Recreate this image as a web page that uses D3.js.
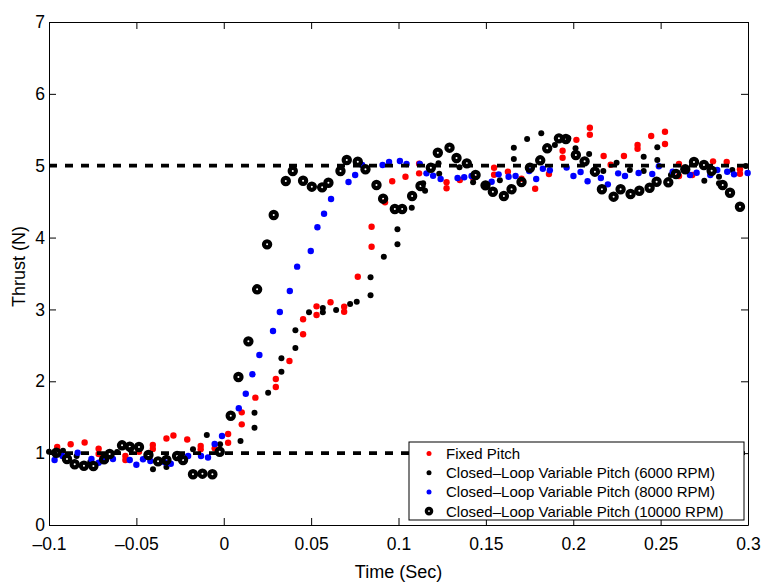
<!DOCTYPE html>
<html lang="en">
<head>
    <meta charset="UTF-8">
    <title>Thrust step response</title>
    <script src="https://d3js.org/d3.v7.min.js"></script>
    <style>
        body { margin: 0; background: #fff; }
        svg text { font-family: 'Liberation Sans', Arial, Helvetica, sans-serif; fill: #000; }
        .axis-label { font-size: 18px; }
        .legend text { font-size: 15px; }
    </style>
</head>
<body>
<script>
    // tick values and labels
    const xTicks = [-0.1, -0.05, 0, 0.05, 0.1, 0.15, 0.2, 0.25, 0.3];
    const xTickLabels = ["–0.1", "–0.05", "0", "0.05", "0.1", "0.15", "0.2", "0.25", "0.3"];
    const yTicks = [0, 1, 2, 3, 4, 5, 6, 7];
    const refLevels = [1, 5];

    const seriesNames = [
        "Fixed Pitch",
        "Closed–Loop Variable Pitch (6000 RPM)",
        "Closed–Loop Variable Pitch (8000 RPM)",
        "Closed–Loop Variable Pitch (10000 RPM)"
    ];

    // [time (s), thrust (N)]
    const fixedPitch = [[-0.0953,1.085],[-0.0876,1.123],[-0.0796,1.148],[-0.0716,1.062],[-0.0716,0.988],[-0.0563,0.960],[-0.0563,0.905],[-0.0485,1.020],[-0.0406,1.113],[-0.0406,1.058],[-0.0328,1.204],[-0.0288,1.245],[-0.0209,1.190],[-0.0132,1.099],[-0.0132,1.053],[-0.0052,1.067],[0.0025,1.266],[0.0025,1.145],[0.0103,1.568],[0.0103,1.401],[0.0181,1.772],[0.0298,2.032],[0.0298,1.920],[0.0376,2.282],[0.0454,2.863],[0.0454,2.654],[0.0531,3.043],[0.0531,2.922],[0.0611,3.099],[0.0689,3.038],[0.0689,2.968],[0.0767,3.455],[0.0846,4.151],[0.0846,3.873],[0.0923,4.491],[0.0964,4.783],[0.1040,4.847],[0.1118,5.028],[0.1118,4.894],[0.1275,4.769],[0.1275,4.686],[0.1351,4.801],[0.1427,4.829],[0.1547,4.972],[0.1547,4.875],[0.1626,4.917],[0.1704,4.819],[0.1782,4.680],[0.1861,4.885],[0.1939,5.209],[0.1939,5.111],[0.2018,5.360],[0.2095,5.529],[0.2095,5.431],[0.2174,5.135],[0.2214,5.014],[0.2290,5.135],[0.2368,5.288],[0.2368,5.237],[0.2446,5.413],[0.2525,5.473],[0.2525,5.302],[0.2605,5.024],[0.2605,4.857],[0.2681,4.871],[0.2800,5.061],[0.2878,5.051],[0.2954,4.950],[0.2954,4.889]];

    const rpm6000 = [[-0.1000,1.020],[-0.0920,1.034],[-0.0842,0.960],[-0.0764,0.877],[-0.0687,0.932],[-0.0610,1.016],[-0.0532,1.044],[-0.0405,0.775],[-0.0328,0.807],[-0.0252,0.932],[-0.0176,1.053],[-0.0097,1.252],[-0.0021,1.123],[0.0096,1.169],[0.0176,1.563],[0.0176,1.354],[0.0254,1.841],[0.0330,2.320],[0.0330,2.133],[0.0410,2.709],[0.0410,2.463],[0.0488,2.960],[0.0567,3.020],[0.0567,2.960],[0.0643,2.992],[0.0723,3.075],[0.0761,3.107],[0.0840,3.197],[0.0840,3.447],[0.0916,3.734],[0.0994,4.115],[0.0994,3.906],[0.1076,4.416],[0.1141,4.755],[0.1152,4.652],[0.1229,5.033],[0.1233,4.889],[0.1349,4.978],[0.1427,4.769],[0.1503,4.718],[0.1580,4.797],[0.1660,5.251],[0.1660,5.093],[0.1736,5.372],[0.1817,5.451],[0.1895,5.288],[0.1972,5.381],[0.2013,5.242],[0.2091,5.163],[0.2172,4.926],[0.2248,5.042],[0.2324,4.940],[0.2403,5.125],[0.2403,4.926],[0.2481,5.256],[0.2481,5.079],[0.2559,4.871],[0.2639,4.940],[0.2750,4.791],[0.2834,4.847],[0.2834,4.755],[0.2910,4.940],[0.2988,4.996]];

    const rpm8000 = [[-0.0968,0.905],[-0.0923,0.960],[-0.0836,1.006],[-0.0757,0.918],[-0.0716,0.867],[-0.0676,0.905],[-0.0634,0.918],[-0.0538,0.905],[-0.0500,0.839],[-0.0462,0.914],[-0.0420,0.891],[-0.0338,0.873],[-0.0303,0.853],[-0.0204,0.960],[-0.0130,0.960],[-0.0090,0.939],[-0.0052,1.127],[-0.0010,1.239],[0.0086,1.624],[0.0126,1.827],[0.0164,2.097],[0.0204,2.366],[0.0282,2.700],[0.0321,2.964],[0.0378,3.256],[0.0420,3.595],[0.0498,3.813],[0.0536,4.143],[0.0574,4.332],[0.0614,4.537],[0.0714,4.773],[0.0752,4.871],[0.0792,5.010],[0.0909,5.010],[0.0946,5.051],[0.1008,5.065],[0.1046,5.024],[0.1122,5.024],[0.1160,4.894],[0.1198,4.861],[0.1241,4.815],[0.1338,4.829],[0.1376,4.839],[0.1418,4.857],[0.1533,4.777],[0.1573,4.880],[0.1630,4.847],[0.1670,4.857],[0.1748,4.926],[0.1788,4.815],[0.1826,4.958],[0.1866,4.936],[0.1962,4.975],[0.2001,4.857],[0.2042,4.912],[0.2082,4.783],[0.2158,4.829],[0.2198,4.741],[0.2257,4.894],[0.2296,4.857],[0.2374,4.898],[0.2452,4.885],[0.2490,4.992],[0.2569,4.917],[0.2668,4.871],[0.2706,4.903],[0.2784,4.871],[0.2824,4.940],[0.2881,4.917],[0.2920,4.880],[0.2998,4.898]];

    const rpm10000 = [[-0.0958,1.006],[-0.0897,0.918],[-0.0853,0.845],[-0.0800,0.825],[-0.0746,0.821],[-0.0685,0.914],[-0.0653,0.988],[-0.0582,1.109],[-0.0538,1.090],[-0.0485,1.085],[-0.0431,0.974],[-0.0376,0.886],[-0.0328,0.905],[-0.0267,0.960],[-0.0233,0.905],[-0.0176,0.706],[-0.0122,0.714],[-0.0065,0.706],[-0.0023,1.020],[0.0040,1.521],[0.0084,2.060],[0.0141,2.556],[0.0191,3.280],[0.0248,3.906],[0.0286,4.314],[0.0355,4.787],[0.0395,4.926],[0.0454,4.791],[0.0504,4.708],[0.0563,4.699],[0.0599,4.763],[0.0668,4.926],[0.0704,5.079],[0.0767,5.056],[0.0811,4.950],[0.0874,4.731],[0.0912,4.541],[0.0979,4.397],[0.1021,4.397],[0.1078,4.578],[0.1126,4.718],[0.1185,4.972],[0.1225,5.181],[0.1292,5.251],[0.1332,5.107],[0.1391,5.033],[0.1441,4.871],[0.1498,4.727],[0.1540,4.638],[0.1603,4.578],[0.1647,4.672],[0.1704,4.773],[0.1752,4.972],[0.1811,5.075],[0.1851,5.242],[0.1918,5.381],[0.1958,5.372],[0.2015,5.149],[0.2065,5.061],[0.2124,4.917],[0.2164,4.672],[0.2231,4.569],[0.2271,4.672],[0.2328,4.606],[0.2378,4.652],[0.2437,4.694],[0.2477,4.777],[0.2544,4.769],[0.2588,4.885],[0.2641,4.950],[0.2691,5.051],[0.2748,5.010],[0.2792,4.930],[0.2855,4.731],[0.2897,4.624],[0.2954,4.429]];

    const margin = {top: 22, right: 24, bottom: 57, left: 49},
          width = 772 - margin.left - margin.right,
          height = 582 - margin.top - margin.bottom;

    const svg = d3.select("body").append("svg")
        .attr("width", 772)
        .attr("height", 582)
        .append("g")
        .attr("transform", `translate(${margin.left},${margin.top})`);

    const x = d3.scaleLinear().domain([-0.1, 0.3]).range([0, width]);
    const y = d3.scaleLinear().domain([0, 7]).range([height, 0]);

    // axes, ticks pointing inward on all four sides
    const styleAxis = g => {
        g.selectAll(".domain").attr("stroke", "#000").attr("stroke-width", 1);
        g.selectAll(".tick line").attr("stroke", "#000").attr("stroke-width", 1);
        g.selectAll(".tick text").style("font-size", "17.5px").attr("fill", "#000");
    };

    svg.append("g")
        .attr("transform", `translate(0,${height})`)
        .call(d3.axisBottom(x).tickValues(xTicks)
            .tickFormat((d, i) => xTickLabels[i])
            .tickSize(-7).tickSizeOuter(0).tickPadding(12.5))
        .call(styleAxis);

    svg.append("g")
        .call(d3.axisTop(x).tickValues(xTicks).tickFormat("")
            .tickSize(-7).tickSizeOuter(0))
        .call(styleAxis);

    svg.append("g")
        .call(d3.axisLeft(y).tickValues(yTicks).tickFormat(d3.format("d"))
            .tickSize(-7).tickSizeOuter(0).tickPadding(4))
        .call(styleAxis);

    svg.append("g")
        .attr("transform", `translate(${width},0)`)
        .call(d3.axisRight(y).tickValues(yTicks).tickFormat("")
            .tickSize(-7).tickSizeOuter(0))
        .call(styleAxis);

    // axis labels
    svg.append("text")
        .attr("class", "axis-label")
        .attr("text-anchor", "middle")
        .attr("x", width / 2)
        .attr("y", height + 53)
        .text("Time (Sec)");

    svg.append("text")
        .attr("class", "axis-label")
        .attr("text-anchor", "middle")
        .attr("transform", `translate(-24,${height / 2 - 7}) rotate(-90)`)
        .text("Thrust (N)");

    // data points, plotted in legend order
    const dots = (data, color, r) => {
        svg.append("g").selectAll("circle")
            .data(data)
            .enter().append("circle")
            .attr("cx", d => x(d[0]))
            .attr("cy", d => y(d[1]))
            .attr("r", r)
            .attr("fill", color);
    };
    dots(fixedPitch, "#ff0000", 3.2);
    dots(rpm6000, "#000000", 3);
    dots(rpm8000, "#0000ff", 3.2);

    svg.append("g").selectAll("circle")
        .data(rpm10000)
        .enter().append("circle")
        .attr("cx", d => x(d[0]))
        .attr("cy", d => y(d[1]))
        .attr("r", 3.1)
        .attr("fill", "none")
        .attr("stroke", "#000")
        .attr("stroke-width", 4.2);

    // dashed reference lines at 1 N and 5 N
    svg.selectAll(".ref")
        .data(refLevels)
        .enter().append("line")
        .attr("class", "ref")
        .attr("x1", x(-0.1))
        .attr("x2", x(0.3))
        .attr("y1", d => y(d))
        .attr("y2", d => y(d))
        .attr("stroke", "#000")
        .attr("stroke-width", 3.8)
        .attr("stroke-dasharray", "8,8");

    // legend
    const legend = svg.append("g")
        .attr("class", "legend")
        .attr("transform", `translate(${width - 339},${height - 83})`);

    legend.append("rect")
        .attr("width", 335)
        .attr("height", 78)
        .attr("fill", "#fff")
        .attr("stroke", "#000")
        .attr("stroke-width", 1);

    const legendColors = ["#ff0000", "#000000", "#0000ff", "#000000"];
    seriesNames.forEach((name, i) => {
        const yy = 11.5 + i * 19.2;
        if (i < 3) {
            legend.append("circle")
                .attr("cx", 20).attr("cy", yy).attr("r", 2.5)
                .attr("fill", legendColors[i]);
        } else {
            legend.append("circle")
                .attr("cx", 20).attr("cy", yy).attr("r", 2.6)
                .attr("fill", "none").attr("stroke", "#000").attr("stroke-width", 3.4);
        }
        legend.append("text")
            .attr("x", 37)
            .attr("y", yy + 5.5)
            .text(name);
    });
</script>
</body>
</html>
